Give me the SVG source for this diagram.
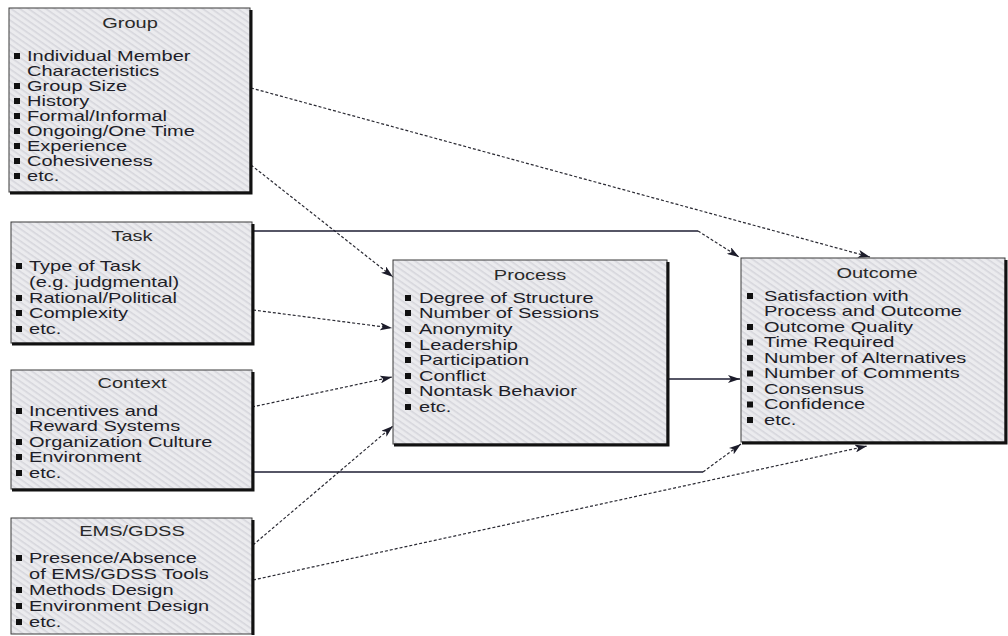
<svg xmlns="http://www.w3.org/2000/svg" width="1008" height="636" viewBox="0 0 1008 636">
<defs>
  <pattern id="tex" width="5" height="5" patternUnits="userSpaceOnUse" patternTransform="rotate(35)">
    <rect width="5" height="5" fill="#ebebee"/>
    <rect width="5" height="1.6" fill="#d6d6dc"/>
  </pattern>
  <marker id="ah" viewBox="0 0 12 8" refX="12" refY="4" markerWidth="12" markerHeight="8" markerUnits="userSpaceOnUse" orient="auto">
    <path d="M0,0 L12,4 L0,8 L3,4 Z" fill="#1c1c2a"/>
  </marker>
</defs>
<style>
  .box{fill:url(#tex);stroke:#3a3a3a;stroke-width:1}
  .shadow{fill:none;stroke:#111;stroke-width:3}
  text{font-family:"Liberation Sans",Arial,sans-serif;font-size:14.5px;fill:#1e1e28}
  .title{text-anchor:middle;fill:#2a2a2a}
  .bul{fill:#111}
  .dash{fill:none;stroke:#2a2a33;stroke-width:1.2;stroke-dasharray:3 2;marker-end:url(#ah)}
  .solid{fill:none;stroke:#1e1e33;stroke-width:1.3}
  .solida{fill:none;stroke:#1e1e33;stroke-width:1.3;marker-end:url(#ah)}
</style>
<rect width="1008" height="636" fill="#ffffff"/>

<g id="connectors">
  <path class="dash" d="M251,88 L870,257"/>
  <path class="dash" d="M251,165 L393,277"/>
  <path class="solid" d="M253,231 L698,231"/>
  <path class="dash" d="M698,231 L739,257"/>
  <path class="dash" d="M253,310 L392,328"/>
  <path class="dash" d="M252,407 L392,377"/>
  <path class="solid" d="M253,472 L703,472"/>
  <path class="dash" d="M703,472 L741,444"/>
  <path class="dash" d="M253,545 L393,426"/>
  <path class="dash" d="M253,580 L867,446"/>
  <path class="solida" d="M668,379 L740,379"/>
</g>

<g id="group">
  <rect class="box" x="9" y="8" width="241" height="184"/>
  <path class="shadow" d="M251,10 V193 H10"/>
  <text class="title" transform="translate(130,28) scale(1.38,1)">Group</text>
  <rect class="bul" x="14" y="53" width="6" height="6"/>
  <rect class="bul" x="14" y="83" width="6" height="6"/>
  <rect class="bul" x="14" y="98" width="6" height="6"/>
  <rect class="bul" x="14" y="113" width="6" height="6"/>
  <rect class="bul" x="14" y="128" width="6" height="6"/>
  <rect class="bul" x="14" y="143" width="6" height="6"/>
  <rect class="bul" x="14" y="158" width="6" height="6"/>
  <rect class="bul" x="14" y="173" width="6" height="6"/>
  <g transform="matrix(1.38 0 0 1 27 0)">
    <text x="0" y="61">Individual Member</text>
    <text x="0" y="76">Characteristics</text>
    <text x="0" y="91">Group Size</text>
    <text x="0" y="106">History</text>
    <text x="0" y="121">Formal/Informal</text>
    <text x="0" y="136">Ongoing/One Time</text>
    <text x="0" y="151">Experience</text>
    <text x="0" y="166">Cohesiveness</text>
    <text x="0" y="181">etc.</text>
  </g>
</g>

<g id="task">
  <rect class="box" x="11" y="222" width="241" height="121"/>
  <path class="shadow" d="M253,224 V344 H12"/>
  <text class="title" transform="translate(132,241) scale(1.38,1)">Task</text>
  <rect class="bul" x="16" y="263" width="6" height="6"/>
  <rect class="bul" x="16" y="295" width="6" height="6"/>
  <rect class="bul" x="16" y="310" width="6" height="6"/>
  <rect class="bul" x="16" y="326" width="6" height="6"/>
  <g transform="matrix(1.38 0 0 1 29 0)">
    <text x="0" y="271">Type of Task</text>
    <text x="0" y="287">(e.g. judgmental)</text>
    <text x="0" y="303">Rational/Political</text>
    <text x="0" y="318">Complexity</text>
    <text x="0" y="334">etc.</text>
  </g>
</g>

<g id="context">
  <rect class="box" x="11" y="370" width="241" height="119"/>
  <path class="shadow" d="M253,372 V490 H12"/>
  <text class="title" transform="translate(132,388) scale(1.38,1)">Context</text>
  <rect class="bul" x="16" y="408" width="6" height="6"/>
  <rect class="bul" x="16" y="439" width="6" height="6"/>
  <rect class="bul" x="16" y="454" width="6" height="6"/>
  <rect class="bul" x="16" y="470" width="6" height="6"/>
  <g transform="matrix(1.38 0 0 1 29 0)">
    <text x="0" y="416">Incentives and</text>
    <text x="0" y="431">Reward Systems</text>
    <text x="0" y="447">Organization Culture</text>
    <text x="0" y="462">Environment</text>
    <text x="0" y="478">etc.</text>
  </g>
</g>

<g id="ems-gdss">
  <rect class="box" x="11" y="518" width="241" height="116"/>
  <path class="shadow" d="M253,520 V635"/>
  <text class="title" transform="translate(132,536) scale(1.38,1)">EMS/GDSS</text>
  <rect class="bul" x="16" y="555" width="6" height="6"/>
  <rect class="bul" x="16" y="587" width="6" height="6"/>
  <rect class="bul" x="16" y="603" width="6" height="6"/>
  <rect class="bul" x="16" y="619" width="6" height="6"/>
  <g transform="matrix(1.38 0 0 1 29 0)">
    <text x="0" y="563">Presence/Absence</text>
    <text x="0" y="579">of EMS/GDSS Tools</text>
    <text x="0" y="595">Methods Design</text>
    <text x="0" y="611">Environment Design</text>
    <text x="0" y="627">etc.</text>
  </g>
</g>

<g id="process">
  <rect class="box" x="393" y="260" width="274" height="184"/>
  <path class="shadow" d="M668,262 V445 H394"/>
  <text class="title" transform="translate(530,280) scale(1.38,1)">Process</text>
  <rect class="bul" x="405" y="295" width="6" height="6"/>
  <rect class="bul" x="405" y="310" width="6" height="6"/>
  <rect class="bul" x="405" y="326" width="6" height="6"/>
  <rect class="bul" x="405" y="342" width="6" height="6"/>
  <rect class="bul" x="405" y="357" width="6" height="6"/>
  <rect class="bul" x="405" y="373" width="6" height="6"/>
  <rect class="bul" x="405" y="388" width="6" height="6"/>
  <rect class="bul" x="405" y="404" width="6" height="6"/>
  <g transform="matrix(1.38 0 0 1 419 0)">
    <text x="0" y="303">Degree of Structure</text>
    <text x="0" y="318">Number of Sessions</text>
    <text x="0" y="334">Anonymity</text>
    <text x="0" y="350">Leadership</text>
    <text x="0" y="365">Participation</text>
    <text x="0" y="381">Conflict</text>
    <text x="0" y="396">Nontask Behavior</text>
    <text x="0" y="412">etc.</text>
  </g>
</g>

<g id="outcome">
  <rect class="box" x="741" y="258" width="264" height="184"/>
  <path class="shadow" d="M1006,260 V443 H742"/>
  <text class="title" transform="translate(877,278) scale(1.38,1)">Outcome</text>
  <rect class="bul" x="747" y="293" width="6" height="6"/>
  <rect class="bul" x="747" y="324" width="6" height="6"/>
  <rect class="bul" x="747" y="339.5" width="6" height="6"/>
  <rect class="bul" x="747" y="355" width="6" height="6"/>
  <rect class="bul" x="747" y="370.5" width="6" height="6"/>
  <rect class="bul" x="747" y="386" width="6" height="6"/>
  <rect class="bul" x="747" y="401.5" width="6" height="6"/>
  <rect class="bul" x="747" y="417" width="6" height="6"/>
  <g transform="matrix(1.38 0 0 1 764 0)">
    <text x="0" y="301">Satisfaction with</text>
    <text x="0" y="316.5">Process and Outcome</text>
    <text x="0" y="332">Outcome Quality</text>
    <text x="0" y="347.5">Time Required</text>
    <text x="0" y="363">Number of Alternatives</text>
    <text x="0" y="378.5">Number of Comments</text>
    <text x="0" y="394">Consensus</text>
    <text x="0" y="409.5">Confidence</text>
    <text x="0" y="425">etc.</text>
  </g>
</g>
</svg>
